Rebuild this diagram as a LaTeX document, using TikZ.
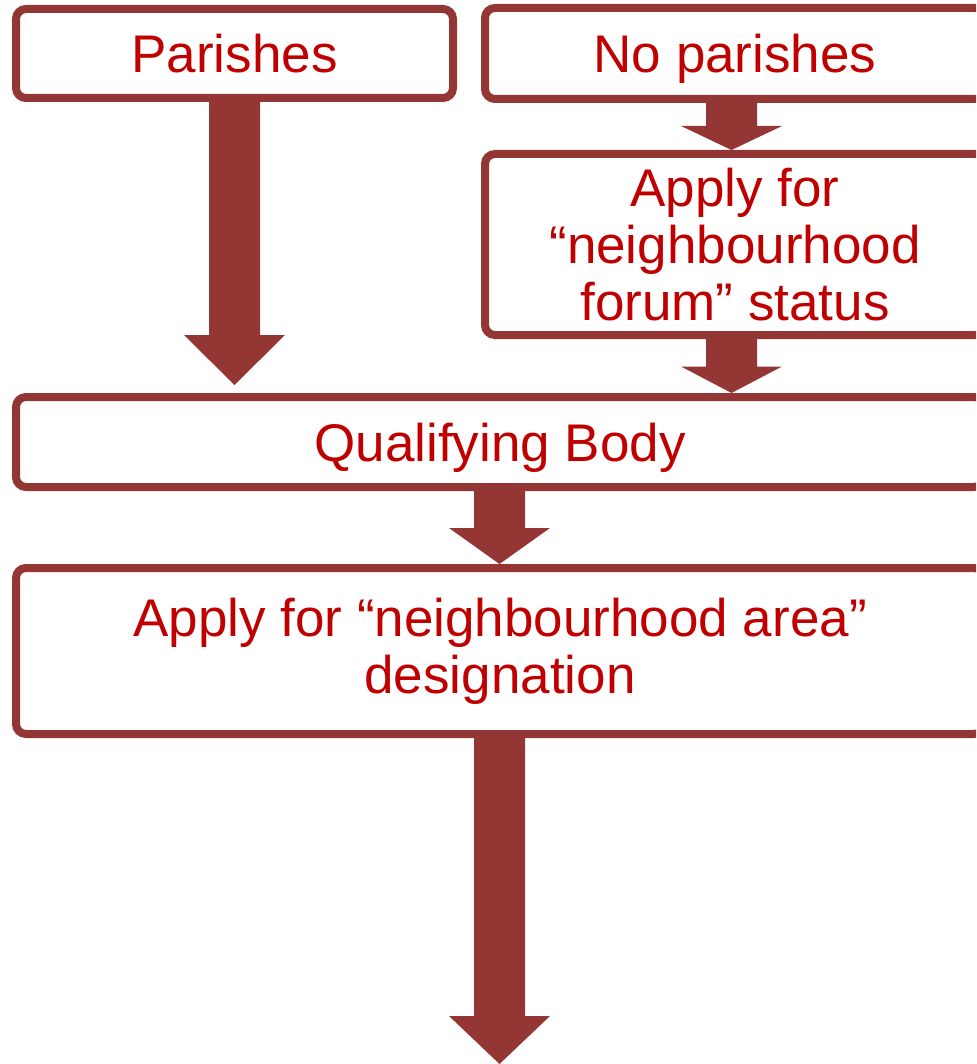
\documentclass[tikz,border=0pt]{standalone}
\usepackage{fontspec}
\setmainfont{Liberation Sans}
\usetikzlibrary{calc}
\definecolor{boxred}{HTML}{943634}
\definecolor{txtred}{HTML}{C00000}
\tikzset{
  flowbox/.style={draw=boxred, line width=8pt, rounded corners=10pt, fill=white,
    text=txtred, align=center, inner sep=0pt,
    font=\fontsize{53}{57}\selectfont},
  oneline/.style={text depth=0pt},
  blockfill/.style={fill=boxred}
}
% #1 source point, #2 target point, #3 head length
\newcommand\blkarrow[3]{%
  \fill[blockfill] let \p1=(#1), \p2=(#2) in
    (\x1-25.5pt,\y1) -- (\x1+25.5pt,\y1) -- (\x1+25.5pt,\y2+#3) --
    (\x1+50.5pt,\y2+#3) -- (\x1,\y2) -- (\x1-50.5pt,\y2+#3) --
    (\x1-25.5pt,\y2+#3) -- cycle;}
\begin{document}
\begin{tikzpicture}[x=1pt,y=-1pt]
\clip (0,0) rectangle (976,1064);
\useasboundingbox (0,0) rectangle (976,1064);
\node[flowbox, oneline, minimum width=437pt, minimum height=89pt] (par) at (234.5,53.5) {Parishes};
\node[flowbox, oneline, minimum width=500pt, minimum height=91pt] (nop) at (735,53.5) {No parishes};
\node[flowbox, minimum width=500pt, minimum height=181pt] (forum) at (735,244.5)
  {Apply for\\“neighbourhood\\forum” status};
\node[flowbox, oneline, minimum width=968pt, minimum height=90pt] (qb) at (500,442) {Qualifying Body};
\node[flowbox, minimum width=968pt, minimum height=166pt] (area) at (500,651)
  {Apply for “neighbourhood area”\\designation};
\coordinate (end) at (499.5,1064);
\blkarrow{par.south}{$(qb.north)+(0,-8)$}{50pt}
\blkarrow{$(nop.south)+(-3.5,0)$}{forum.north}{24pt}
\blkarrow{$(forum.south)+(-3.5,0)$}{qb.north}{26.5pt}
\blkarrow{$(qb.south)+(-0.5,0)$}{area.north}{36pt}
\blkarrow{$(area.south)+(-0.5,0)$}{end}{48pt}
\end{tikzpicture}
\end{document}
